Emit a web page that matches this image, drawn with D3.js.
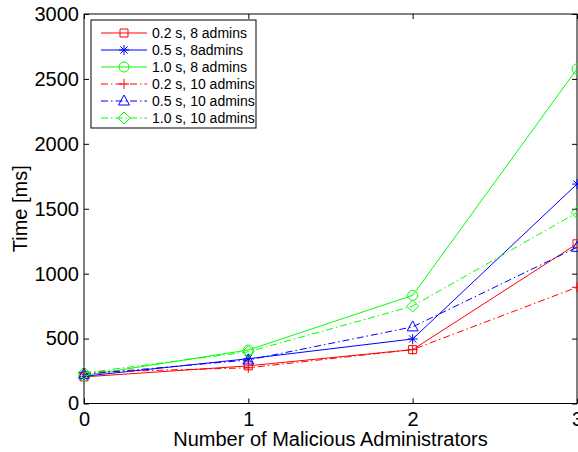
<!DOCTYPE html>
<html>
<head>
<meta charset="utf-8">
<script src="https://cdn.jsdelivr.net/npm/d3@7"></script>
<style>
    body { margin: 0; background: #fff; }
    text { font-family: "Liberation Sans", Arial, sans-serif; fill: #000; }
</style>
</head>
<body>
<svg id="chart" width="578" height="452"></svg>
<script>
// Values
var adminCounts = [0, 1, 2, 3];
var time02s8 = [205, 290, 415, 1230];
var time05s8 = [210, 345, 497, 1690];
var time10s8 = [215, 412, 833, 2577];
var time02s10 = [240, 275, 415, 895];
var time05s10 = [225, 335, 590, 1203];
var time10s10 = [235, 398, 750, 1470];
var seriesLabels = ["0.2 s, 8 admins", "0.5 s, 8admins", "1.0 s, 8 admins",
    "0.2 s, 10 admins", "0.5 s, 10 admins", "1.0 s, 10 admins"];
var xTicks = [0, 1, 2, 3];
var yTicks = [0, 500, 1000, 1500, 2000, 2500, 3000];

var series = [
    { values: time02s8, color: "#ff0000", dash: null, marker: "square" },
    { values: time05s8, color: "#0000ff", dash: null, marker: "star" },
    { values: time10s8, color: "#00ff00", dash: null, marker: "circle" },
    { values: time02s10, color: "#ff0000", dash: "7,3,1.5,3", marker: "plus" },
    { values: time05s10, color: "#0000ff", dash: "7,3,1.5,3", marker: "triangle" },
    { values: time10s10, color: "#00ff00", dash: "7,3,1.5,3", marker: "diamond" }
];

var svg = d3.select("#chart");
var margin = { top: 14, left: 84, right: 1, bottom: 48.5 };
var width = +svg.attr("width") - margin.left - margin.right,
    height = +svg.attr("height") - margin.top - margin.bottom;

var plot = svg
    .append("g")
    .attr("transform", "translate(" + margin.left + "," + margin.top + ")");

var xScale = d3.scaleLinear().domain([0, 3]).range([0, width]);
var yScale = d3.scaleLinear().domain([0, 3000]).range([height, 0]);

// marker shapes in MATLAB style
var markerPath = function(type) {
    var p = d3.path();
    if (type == "square") {
        p.rect(-4, -4, 8, 8);
    } else if (type == "circle") {
        p.arc(0, 0, 5, 0, 2 * Math.PI);
    } else if (type == "plus") {
        p.moveTo(-5, 0); p.lineTo(5, 0);
        p.moveTo(0, -5); p.lineTo(0, 5);
    } else if (type == "star") {
        p.moveTo(-5, 0); p.lineTo(5, 0);
        p.moveTo(0, -5); p.lineTo(0, 5);
        p.moveTo(-3.6, -3.6); p.lineTo(3.6, 3.6);
        p.moveTo(-3.6, 3.6); p.lineTo(3.6, -3.6);
    } else if (type == "triangle") {
        p.moveTo(0, -6); p.lineTo(5.5, 4); p.lineTo(-5.5, 4); p.closePath();
    } else if (type == "diamond") {
        p.moveTo(0, -6); p.lineTo(6, 0); p.lineTo(0, 6); p.lineTo(-6, 0); p.closePath();
    }
    return p.toString();
};

var line = d3
    .line()
    .x(function(d, i) {
        return xScale(adminCounts[i]);
    })
    .y(function(d) {
        return yScale(d);
    });

// axes box with inward ticks
plot.append("rect")
    .attr("width", width)
    .attr("height", height)
    .attr("fill", "none")
    .attr("stroke", "#000")
    .attr("stroke-width", 1);

var xBottom = plot.append("g")
    .attr("transform", "translate(0," + height + ")")
    .call(d3.axisBottom(xScale).tickValues(xTicks).tickFormat(d3.format("d")).tickSizeInner(-5).tickSizeOuter(0).tickPadding(8));
var xTop = plot.append("g")
    .call(d3.axisTop(xScale).tickValues(xTicks).tickFormat("").tickSizeInner(-5).tickSizeOuter(0));
var yLeft = plot.append("g")
    .call(d3.axisLeft(yScale).tickValues(yTicks).tickFormat(d3.format("d")).tickSizeInner(-5).tickSizeOuter(0).tickPadding(5));
var yRight = plot.append("g")
    .attr("transform", "translate(" + width + ",0)")
    .call(d3.axisRight(yScale).tickValues(yTicks).tickFormat("").tickSizeInner(-5).tickSizeOuter(0));

[xBottom, xTop, yLeft, yRight].forEach(function(ax) {
    ax.select(".domain").remove();
    ax.selectAll("line").attr("stroke", "#000");
    ax.selectAll("text").style("font-size", "20px").attr("font-family", null);
});

// axis titles
svg.append("text")
    .attr("x", margin.left + width / 2)
    .attr("y", 446)
    .attr("text-anchor", "middle")
    .style("font-size", "20px")
    .text("Number of Malicious Administrators");

svg.append("text")
    .attr("transform", "translate(27," + (margin.top + height / 2) + ") rotate(-90)")
    .attr("text-anchor", "middle")
    .style("font-size", "20px")
    .text("Time [ms]");

// series lines and markers
series.forEach(function(s) {
    plot.append("path")
        .datum(s.values)
        .attr("d", line)
        .attr("fill", "none")
        .attr("stroke", s.color)
        .attr("stroke-width", 1)
        .attr("stroke-dasharray", s.dash);

    plot.append("g")
        .selectAll("path")
        .data(s.values)
        .enter()
        .append("path")
        .attr("transform", function(d, i) {
            return "translate(" + xScale(adminCounts[i]) + "," + yScale(d) + ")";
        })
        .attr("d", markerPath(s.marker))
        .attr("fill", "none")
        .attr("stroke", s.color)
        .attr("stroke-width", 1);
});

// legend
var legend = svg.append("g").attr("transform", "translate(91,20)");
legend.append("rect")
    .attr("width", 165)
    .attr("height", 108)
    .attr("fill", "#fff")
    .attr("stroke", "#000");

var rows = legend.selectAll("g.row")
    .data(series)
    .enter()
    .append("g")
    .attr("class", "row")
    .attr("transform", function(d, i) {
        return "translate(0," + (13 + i * 17) + ")";
    });

rows.append("line")
    .attr("x1", 10)
    .attr("x2", 56)
    .attr("stroke", function(d) { return d.color; })
    .attr("stroke-dasharray", function(d) { return d.dash; });

rows.append("path")
    .attr("transform", "translate(33,0)")
    .attr("d", function(d) { return markerPath(d.marker); })
    .attr("fill", "none")
    .attr("stroke", function(d) { return d.color; });

rows.append("text")
    .attr("x", 61)
    .attr("dy", "0.35em")
    .style("font-size", "14px")
    .text(function(d, i) { return seriesLabels[i]; });
</script>
</body>
</html>
